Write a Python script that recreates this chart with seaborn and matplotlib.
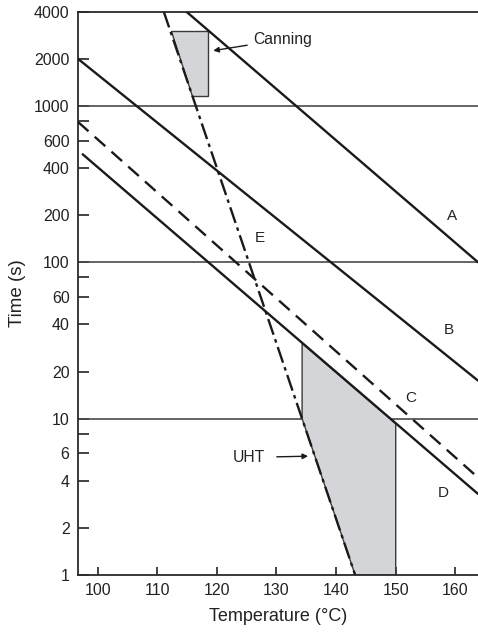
import numpy as np
import pandas as pd
import seaborn as sns
import matplotlib.pyplot as plt

# линии A-E: концы (температура, время)
line_A_T = [114.9, 163.8]
line_A_t = [4000, 100]
line_B_T = [96.7, 163.8]
line_B_t = [2000, 17.5]
line_C_T = [96.7, 163.8]
line_C_t = [790, 4.2]
line_D_T = [97.5, 163.8]
line_D_t = [490, 3.3]
line_E_T = [111.1, 143.2]
line_E_t = [4000, 1]

# заштрихованные области
uht_T = [134.3, 150.0, 150.0, 143.2, 134.3]
uht_t = [30.3, 9.3, 1, 1, 10]
canning_T = [112.3, 118.6, 118.6, 115.9]
canning_t = [3000, 3000, 1160, 1160]

x_ticks = [100, 110, 120, 130, 140, 150, 160]
y_ticks = [1, 2, 4, 6, 8, 10, 20, 40, 60, 80, 100, 200, 400, 600, 800, 1000, 2000, 4000]
y_labels = ["1", "2", "4", "6", "", "10", "20", "40", "60", "", "100", "200", "400", "600", "", "1000", "2000", "4000"]
h_lines = [10, 100, 1000]

labels = ["A", "B", "C", "D", "E"]
label_T = [159.5, 158.9, 152.6, 158.0, 127.2]
label_t = [198, 36.6, 13.6, 3.36, 143]

sns.set_style("ticks")
plt.rcParams["font.family"] = ["Liberation Sans", "DejaVu Sans"]

fig = plt.figure(figsize=(4.78, 6.32), dpi=100)
ax = fig.add_axes([0.163, 0.0902, 0.837, 0.8913])
ax.set_yscale("log")

black = "#1a1a1a"
txt = "#222222"

# горизонтальные линии
for h in h_lines:
    ax.axhline(h, color="#4a4a4a", lw=1.2, zorder=1)

# области
ax.fill(uht_T, uht_t, facecolor="#d4d5d8", edgecolor="#3a3a3a", lw=1.0, zorder=2)
ax.fill(canning_T, canning_t, facecolor="#d4d5d8", edgecolor="#3a3a3a", lw=1.0, zorder=2)

sns.lineplot(x=line_A_T, y=line_A_t, ax=ax, color=black, lw=1.7, zorder=3)
sns.lineplot(x=line_B_T, y=line_B_t, ax=ax, color=black, lw=1.7, zorder=3)
sns.lineplot(x=line_C_T, y=line_C_t, ax=ax, color=black, lw=1.7, zorder=3)
ax.lines[-1].set_dashes((6, 3.5))
sns.lineplot(x=line_D_T, y=line_D_t, ax=ax, color=black, lw=1.7, zorder=3)
sns.lineplot(x=line_E_T, y=line_E_t, ax=ax, color=black, lw=1.7, zorder=3)
ax.lines[-1].set_dashes((7, 2, 1.5, 2))

for lab, tx, ty in zip(labels, label_T, label_t):
    ax.text(tx, ty, lab, fontsize=11, ha="center", va="center", color=txt)

ax.annotate("Canning", xy=(119.4, 2254), xytext=(126.1, 2655),
            fontsize=11.3, ha="left", va="center", color=txt,
            arrowprops=dict(arrowstyle="-|>", color=black, lw=1.0,
                            shrinkA=2, shrinkB=0, mutation_scale=8))
ax.annotate("UHT", xy=(135.3, 5.75), xytext=(122.7, 5.65),
            fontsize=11.3, ha="left", va="center", color=txt,
            arrowprops=dict(arrowstyle="-|>", color=black, lw=1.0,
                            shrinkA=6, shrinkB=0, mutation_scale=8))

ax.set_xlim(96.7, 163.8)
ax.set_ylim(1, 4000)
ax.set_xticks(x_ticks)
ax.set_xticklabels([str(v) for v in x_ticks])
ax.set_yticks(y_ticks)
ax.set_yticklabels(y_labels)
ax.minorticks_off()
ax.tick_params(axis="y", direction="in", length=8, width=1.2, labelsize=11.5, colors=txt, pad=6)
ax.tick_params(axis="x", direction="in", length=6, width=1.2, labelsize=11.5, colors=txt, pad=6)

ax.spines["right"].set_visible(False)
for s in ["left", "bottom", "top"]:
    ax.spines[s].set_linewidth(1.3)
    ax.spines[s].set_color("#2a2a2a")

ax.set_xlabel("Temperature (°C)", fontsize=13, color=txt, labelpad=7)
ax.set_ylabel("Time (s)", fontsize=13.5, color=txt, labelpad=6)

fig.savefig("out.png", dpi=100)
